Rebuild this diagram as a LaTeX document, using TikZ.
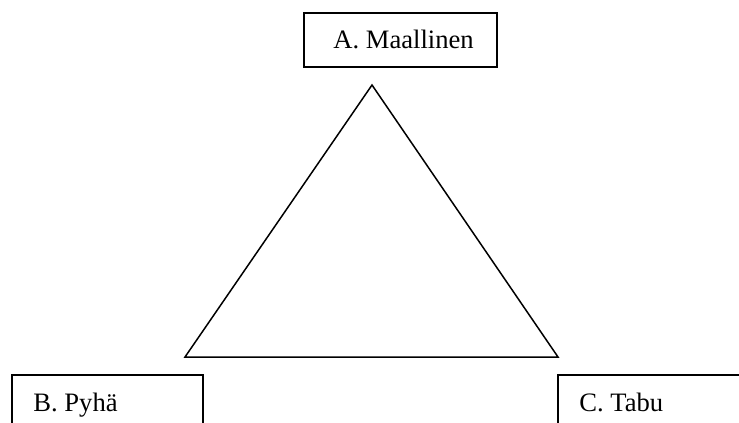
\documentclass[tikz,border=0pt]{standalone}
\usepackage{fontspec}
\setmainfont{Liberation Serif}
\newfontfamily\termfont{Liberation Serif}

\tikzset{
	term/.style={rectangle, draw=black, line width=0.75pt, anchor=north west, outer sep=0pt, inner sep=0pt},
	word/.style={anchor=base west, inner sep=0pt, font=\termfont\fontsize{13.3}{16}\selectfont},
	side/.style={-, line width=0.75pt, line join=miter},
}

\begin{document}
\begin{tikzpicture}[x=0.5pt,y=-0.5pt]
	
	\useasboundingbox (0,0) rectangle (739,423);
	
	\node[term, minimum width=96.5pt, minimum height=27pt] (a) at (304, 13)  {};
	\node[term, minimum width=95.5pt, minimum height=26pt] (b) at (12, 375)  {};
	\node[term, minimum width=96.5pt, minimum height=26pt] (c) at (558, 375) {};
	
	\node[word] (at) at ([shift={(14.5pt,-17.5pt)}]a.north west) {A. Maallinen};
	\node[word] (bt) at ([shift={(10.5pt,-18pt)}]b.north west)   {B. Pyhä};
	\node[word] (ct) at ([shift={(10.5pt,-18pt)}]c.north west)   {C. Tabu};
	
	\coordinate (ta) at (372, 85);
	\coordinate (tb) at (185, 357);
	\coordinate (tc) at (558, 357);
	
	\draw[side] (ta) -- (tb) -- (tc) -- cycle;
	
\end{tikzpicture}
\end{document}
